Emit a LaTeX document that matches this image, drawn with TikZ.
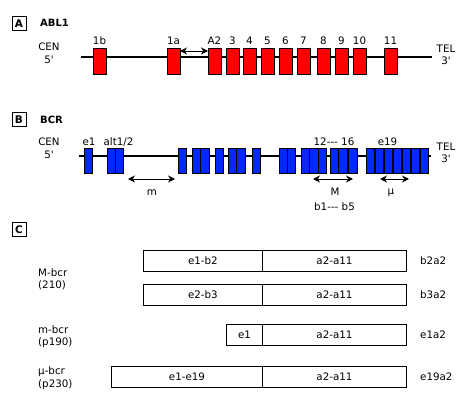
\documentclass[tikz,border=0pt]{standalone}
\usepackage{fontspec}
\setmainfont{DejaVu Sans}[Ligatures=TeXOff]
\usetikzlibrary{arrows.meta}
\definecolor{exred}{RGB}{255,0,0}
\definecolor{exblue}{RGB}{0,40,255}
\begin{document}
\begin{tikzpicture}[x=1pt,y=-1pt,
  every node/.style={font=\fontsize{10.3}{12.5}\selectfont, inner sep=0pt},
  panel/.style={draw, line width=0.9pt, minimum width=14pt, minimum height=14pt, inner sep=0pt, font=\fontsize{10.5}{12}\selectfont\bfseries},
  title/.style={anchor=west, font=\fontsize{10}{12}\selectfont\bfseries},
  chrom/.style={line width=2pt},
  redexon/.style={draw, line width=0.9pt, fill=exred, minimum width=13pt, minimum height=26pt, anchor=north west, outer sep=0pt},
  blueexon/.style={draw, line width=0.9pt, fill=exblue, minimum width=8.6pt, minimum height=25pt, anchor=north west, outer sep=0pt},
  span/.style={{Stealth[length=7pt,width=7pt]}-{Stealth[length=7pt,width=7pt]}, line width=1pt},
  seg/.style={draw, line width=0.9pt, minimum height=20.5pt, anchor=north west},
  endlab/.style={align=center},
]
\useasboundingbox (0,0) rectangle (466,407);
\fill[white] (0,0) rectangle (466,407);

% ---------- Panel A ----------
\node[panel] (pA) at (19,23.5) {A};
\node[title] (tA) at (40,23) {ABL1};
\node[endlab] (cenA) at (49,53) {CEN\\5'};
\node[endlab] (telA) at (446,55) {TEL\\3'};
\coordinate (lA1) at (81,57);
\coordinate (lA2) at (432,57);
\draw[chrom] (lA1) -- (lA2);
\foreach \x/\lab/\n in {93/1b/1,167/1a/2,208/A2/3,226/3/4,243/4/5,261/5/6,279/6/7,297/7/8,317/8/9,335/9/10,353/10/11,384/11/12}{
  \node[redexon] (a\n) at (\x,48) {};
  \node (la\n) at (\x+6.5,41) {\lab};
}
\draw[span] ([yshift=-3pt]a2.north east) -- ([yshift=-3pt]a3.north west);

% ---------- Panel B ----------
\node[panel] (pB) at (19,119.5) {B};
\node[title] (tB) at (40,120) {BCR};
\node[endlab] (cenB) at (49,148) {CEN\\5'};
\node[endlab] (telB) at (446,153) {TEL\\3'};
\coordinate (lB1) at (79,156);
\coordinate (lB2) at (431,156);
\draw[chrom] (lB1) -- (lB2);
\foreach \x [count=\n] in {84,107,115.3,178,192,200.6,215,228,236.6,252,279,287.3,301,309.6,318.2,330,338.5,348.5,366,375,384,393,402,411,420}{
  \node[blueexon] (b\n) at (\x,148) {};
}
\node (le1) at (89,142) {e1};
\node (lalt) at (118.5,142) {alt1/2};
\node (l1216) at (334,142) {12-{}-{}- 16};
\node (le19) at (387.5,142) {e19};

\coordinate (mA) at (128,179);
\coordinate (mB) at (175,179);
\draw[span] (mA) -- (mB);
\node (lm) at (152,193) {m};
\coordinate (MA) at (313,179);
\coordinate (MB) at (353,179);
\draw[span] (MA) -- (MB);
\node (lM) at (335,192) {M};
\node (lb15) at (334.5,207) {b1-{}-{}- b5};
\coordinate (uA) at (380,179);
\coordinate (uB) at (409,179);
\draw[span] (uA) -- (uB);
\node (lmu) at (391,193) {μ};

% ---------- Panel C ----------
\node[panel] (pC) at (19,229.5) {C};

\node[anchor=west, align=left] (r1) at (38,279.5) {M-bcr\\(210)};
\node[seg, minimum width=119pt] (r1a) at (143,250) {e1-b2};
\node[seg, minimum width=144pt] (r1b) at (262,250) {a2-a11};
\node[anchor=west] (r1c) at (420,260.5) {b2a2};

\node[seg, minimum width=119pt] (r2a) at (143,284) {e2-b3};
\node[seg, minimum width=144pt] (r2b) at (262,284) {a2-a11};
\node[anchor=west] (r2c) at (420,294.5) {b3a2};

\node[anchor=west, align=left] (r3) at (38,336.5) {m-bcr\\(p190)};
\node[seg, minimum width=36pt] (r3a) at (226,324) {e1};
\node[seg, minimum width=144pt] (r3b) at (262,324) {a2-a11};
\node[anchor=west] (r3c) at (420,334.5) {e1a2};

\node[anchor=west, align=left] (r4) at (38,378) {μ-bcr\\(p230)};
\node[seg, minimum width=151pt] (r4a) at (111,366) {e1-e19};
\node[seg, minimum width=144pt] (r4b) at (262,366) {a2-a11};
\node[anchor=west] (r4c) at (420,376.5) {e19a2};
\end{tikzpicture}
\end{document}
